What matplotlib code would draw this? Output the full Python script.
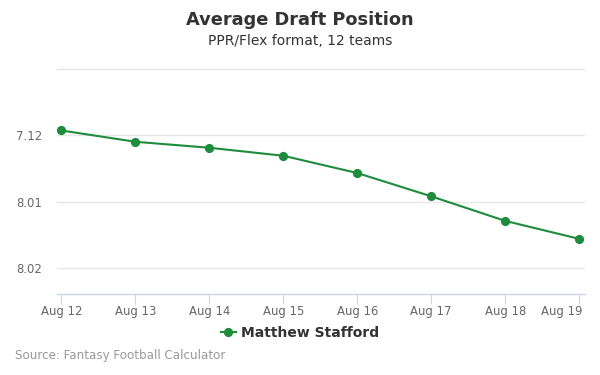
import matplotlib
matplotlib.use("Agg")
import matplotlib.pyplot as plt
from matplotlib.lines import Line2D
from matplotlib.transforms import ScaledTranslation

plt.rcParams['font.family'] = ['DejaVu Sans']

dates = ["Aug 12", "Aug 13", "Aug 14", "Aug 15", "Aug 16", "Aug 17", "Aug 18", "Aug 19"]
# ADP as overall pick number (12-team league): 84 = 7.12, 85 = 8.01, 86 = 8.02
adp_pick = [83.93, 84.10, 84.19, 84.31, 84.57, 84.92, 85.29, 85.56]
ytick_vals = [83, 84, 85, 86]
ytick_labels = ["", "7.12", "8.01", "8.02"]
series_name = "Matthew Stafford"

W, H = 600, 375
fig = plt.figure(figsize=(W / 100, H / 100), dpi=100)
left, right, top, bottom = 57, 585, 68, 294
ax = fig.add_axes([left / W, 1 - bottom / H, (right - left) / W, (bottom - top) / H])

color = "#1e8c3c"
x = list(range(len(dates)))
ax.plot(x, adp_pick, color=color, lw=1.5, marker="o", ms=5.6, zorder=3)

ax.set_xlim(-0.06, 7.08)
ax.set_ylim(86.39, 82.99)

ax.set_yticks(ytick_vals)
ax.set_yticklabels(ytick_labels)
ax.set_xticks(x)
ax.set_xticklabels(dates)

ax.grid(axis="y", color="#e6e6e6", lw=1)
ax.set_axisbelow(True)
for s in ["top", "right", "left"]:
    ax.spines[s].set_visible(False)
ax.spines["bottom"].set_color("#ccd6eb")
ax.spines["bottom"].set_linewidth(1)

ax.tick_params(axis="y", length=0, pad=11, labelsize=8.4, labelcolor="#666666")
ax.tick_params(axis="x", length=7.2, width=0.8, color="#ccd6eb", pad=0.8,
               labelsize=8.4, labelcolor="#666666")

# last label kept inside the chart, as in the reference
last = ax.get_xticklabels()[-1]
last.set_horizontalalignment("right")
last.set_transform(last.get_transform() + ScaledTranslation(3 / 100, 0, fig.dpi_scale_trans))

fig.text(0.5, 1 - 20 / H, "Average Draft Position", ha="center", va="center",
         fontsize=12.8, fontweight="bold", color="#333333")
fig.text(0.5, 1 - 41 / H, "PPR/Flex format, 12 teams", ha="center", va="center",
         fontsize=10, color="#333333")
fig.text(15 / W, 1 - 356 / H, "Source: Fantasy Football Calculator", ha="left", va="center",
         fontsize=8.6, color="#999999")

handle = Line2D([], [], color=color, lw=1.5, marker="o", ms=5.6)
leg = fig.legend([handle], [series_name], loc="center", bbox_to_anchor=(0.5, 1 - 333 / H),
                 frameon=False, handlelength=1.1, handletextpad=0.4,
                 prop={"weight": "bold", "size": 10})
for t in leg.get_texts():
    t.set_color("#333333")

fig.savefig("out.png", dpi=100, facecolor="white")
